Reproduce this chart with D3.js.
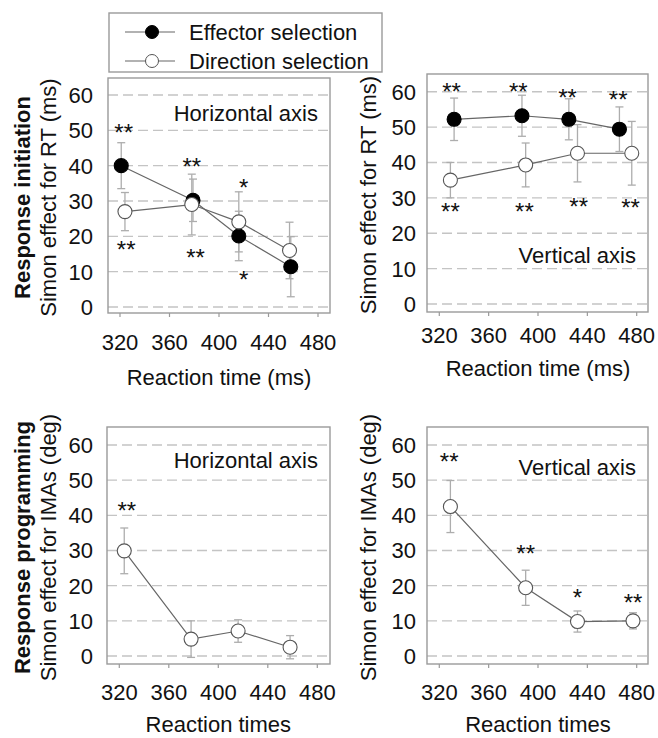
<!DOCTYPE html>
<html lang="en">
<head>
  <meta charset="UTF-8">
  <title>Simon effect by reaction time</title>
  <script src="https://d3js.org/d3.v7.min.js"></script>
  <style>
    body { margin: 0; background: #fff; }
    text { font-family: "Liberation Sans", Arial, sans-serif; fill: #111; }
  </style>
</head>
<body>
<div id="chart"></div>
<script>
  // Data
  const xTicks = [320, 360, 400, 440, 480];
  const yTicks = [0, 10, 20, 30, 40, 50, 60];

  // Response initiation, horizontal axis
  const hEffRT  = [321, 379, 416, 458];
  const hEffVal = [40, 30.2, 20.1, 11.4];
  const hEffErr = [6.5, 6, 7, 8.5];
  const hDirRT  = [324, 378, 416, 457];
  const hDirVal = [27, 29, 24.1, 16];
  const hDirErr = [5.4, 8.6, 8.5, 8];
  const hRtStars = [[323, 50.6, "**"], [378, 41.1, "**"], [420, 35, "*"],
                    [325, 17.5, "**"], [381, 15.2, "**"], [420, 9.1, "*"]];

  // Response initiation, vertical axis
  const vEffRT  = [332, 387, 425, 466];
  const vEffVal = [52.2, 53.2, 52.2, 49.4];
  const vEffErr = [6, 5.8, 5.8, 6.3];
  const vDirRT  = [329, 390, 432, 476];
  const vDirVal = [35, 39.3, 42.6, 42.6];
  const vDirErr = [5, 6.2, 8.1, 9];
  const vRtStars = [[330, 61.2, "**"], [384, 61.4, "**"], [424, 59.7, "**"], [465, 59.1, "**"],
                    [329, 27.5, "**"], [389, 27.5, "**"], [433, 28.7, "**"], [475, 28.5, "**"]];

  // Response programming (IMAs)
  const hImaRT  = [324, 378, 416, 458];
  const hImaVal = [29.9, 4.8, 7.1, 2.5];
  const hImaErr = [6.5, 5.2, 3.2, 3.3];
  const hImaStars = [[326, 42.6, "**"]];

  const vImaRT  = [329, 390, 432, 477];
  const vImaVal = [42.5, 19.4, 9.8, 10];
  const vImaErr = [7.4, 5, 3, 2.3];
  const vImaStars = [[328, 56.5, "**"], [390, 30.3, "**"], [432, 18, "*"], [477, 16.4, "**"]];

  const legendLabels = ["Effector selection", "Direction selection"];

  const width = 658, height = 738;
  const gridColor = "#c4c4c4", frameColor = "#9a9a9a", errColor = "#adadad", lineColor = "#666";

  const svg = d3.select("#chart").append("svg")
    .attr("width", width).attr("height", height);
  svg.append("rect").attr("width", width).attr("height", height).attr("fill", "#fff");

  const zip = (rt, val, err) => rt.map((r, i) => ({ rt: r, v: val[i], e: err[i] }));

  // panel layout: frame box, plot range inside it, and label placements
  const panels = [
    { frame: [108, 78, 222, 235], xr: [120, 318], yr: [307, 95],
      series: [{ pts: zip(hEffRT, hEffVal, hEffErr), filled: true },
               { pts: zip(hDirRT, hDirVal, hDirErr), filled: false }],
      stars: hRtStars, inner: ["Horizontal axis", 54.9],
      ytitle: "Simon effect for RT (ms)", ytx: 48, bold: "Response initiation", xtitle: "Reaction time (ms)",
      tickY: 342, xtY: 377, ylabGap: 15 },
    { frame: [427, 74, 221, 238], xr: [439.3, 636.7], yr: [304, 91.7],
      series: [{ pts: zip(vEffRT, vEffVal, vEffErr), filled: true },
               { pts: zip(vDirRT, vDirVal, vDirErr), filled: false }],
      stars: vRtStars, inner: ["Vertical axis", 13.8],
      ytitle: "Simon effect for RT (ms)", ytx: 368, xtitle: "Reaction time (ms)",
      tickY: 335, xtY: 368, ylabGap: 11 },
    { frame: [107, 427, 223, 237], xr: [119.3, 317.3], yr: [656, 445],
      series: [{ pts: zip(hImaRT, hImaVal, hImaErr), filled: false }],
      stars: hImaStars, inner: ["Horizontal axis", 55.7],
      ytitle: "Simon effect for IMAs (deg)", ytx: 48, bold: "Response programming", xtitle: "Reaction times",
      tickY: 692, xtY: 724, ylabGap: 14 },
    { frame: [427, 427, 221, 237], xr: [439.3, 636.7], yr: [656, 445],
      series: [{ pts: zip(vImaRT, vImaVal, vImaErr), filled: false }],
      stars: vImaStars, inner: ["Vertical axis", 53.7],
      ytitle: "Simon effect for IMAs (deg)", ytx: 368, xtitle: "Reaction times",
      tickY: 692, xtY: 724, ylabGap: 11 }
  ];

  panels.forEach(p => {
    const [fx, fy, fw, fh] = p.frame;
    const x = d3.scaleLinear().domain([320, 480]).range(p.xr);
    const y = d3.scaleLinear().domain([0, 60]).range(p.yr);
    const g = svg.append("g");

    // dashed gridlines
    g.selectAll(".grid").data(yTicks).join("line")
      .attr("x1", fx).attr("x2", fx + fw)
      .attr("y1", d => y(d)).attr("y2", d => y(d))
      .attr("stroke", gridColor).attr("stroke-width", 1.4)
      .attr("stroke-dasharray", "10,5");

    // frame
    g.append("rect").attr("x", fx).attr("y", fy).attr("width", fw).attr("height", fh)
      .attr("fill", "none").attr("stroke", frameColor).attr("stroke-width", 1.4);

    // x ticks below the frame
    g.selectAll(".xt").data(xTicks).join("line")
      .attr("x1", d => x(d)).attr("x2", d => x(d))
      .attr("y1", fy + fh).attr("y2", fy + fh + 4)
      .attr("stroke", frameColor).attr("stroke-width", 1.2);
    g.selectAll(".xl").data(xTicks).join("text")
      .attr("x", d => x(d)).attr("y", p.tickY).attr("dy", "0.36em")
      .attr("text-anchor", "middle").style("font-size", "22px").text(d => d);

    // y tick labels
    g.selectAll(".yl").data(yTicks).join("text")
      .attr("x", fx - p.ylabGap).attr("y", d => y(d)).attr("dy", "0.36em")
      .attr("text-anchor", "end").style("font-size", "22px").text(d => d);

    // axis titles
    g.append("text").attr("x", (p.xr[0] + p.xr[1]) / 2).attr("y", p.xtY).attr("dy", "0.36em")
      .attr("text-anchor", "middle").style("font-size", "22px").text(p.xtitle);
    const cy = fy + fh / 2 + 2;
    g.append("text").attr("transform", `translate(${p.ytx},${cy}) rotate(-90)`)
      .attr("dy", "0.36em").attr("text-anchor", "middle").style("font-size", "22px").text(p.ytitle);
    if (p.bold) {
      g.append("text").attr("transform", `translate(22,${cy}) rotate(-90)`)
        .attr("dy", "0.36em").attr("text-anchor", "middle")
        .style("font-size", "22px").style("font-weight", "bold").text(p.bold);
    }

    // panel label
    g.append("text").attr("x", fx + fw - 12).attr("y", y(p.inner[1])).attr("dy", "0.36em")
      .attr("text-anchor", "end").style("font-size", "22px").text(p.inner[0]);

    // error bars for all series first, then lines and markers
    p.series.forEach(s => {
      const eb = g.append("g").attr("stroke", errColor).attr("stroke-width", 1.3);
      eb.selectAll(".v").data(s.pts).join("line")
        .attr("x1", d => x(d.rt)).attr("x2", d => x(d.rt))
        .attr("y1", d => y(d.v - d.e)).attr("y2", d => y(d.v + d.e));
      eb.selectAll(".c").data(s.pts.flatMap(d => [d.v - d.e, d.v + d.e].map(v => ({ rt: d.rt, v }))))
        .join("line")
        .attr("x1", d => x(d.rt) - 4).attr("x2", d => x(d.rt) + 4)
        .attr("y1", d => y(d.v)).attr("y2", d => y(d.v));
    });
    const line = d3.line().x(d => x(d.rt)).y(d => y(d.v));
    p.series.forEach(s => {
      g.append("path").datum(s.pts).attr("d", line)
        .attr("fill", "none").attr("stroke", lineColor).attr("stroke-width", 1.2);
    });
    p.series.forEach(s => {
      g.selectAll(null).data(s.pts).join("circle")
        .attr("cx", d => x(d.rt)).attr("cy", d => y(d.v)).attr("r", 7)
        .attr("fill", s.filled ? "#000" : "#fff")
        .attr("stroke", s.filled ? "#000" : "#555").attr("stroke-width", 1.1);
    });

    // significance stars (centred on glyph)
    g.selectAll(".st").data(p.stars).join("text")
      .attr("x", d => x(d[0])).attr("y", d => y(d[1]) + 13)
      .attr("text-anchor", "middle").style("font-size", "24px").text(d => d[2]);
  });

  // legend
  const lg = svg.append("g");
  lg.append("rect").attr("x", 109).attr("y", 13).attr("width", 273).attr("height", 59)
    .attr("fill", "#fff").attr("stroke", frameColor).attr("stroke-width", 1.4);
  const rowY = d3.scalePoint().domain(legendLabels).range([32, 61]);
  legendLabels.forEach((lab, i) => {
    const yy = rowY(lab);
    lg.append("line").attr("x1", 125).attr("x2", 175).attr("y1", yy).attr("y2", yy)
      .attr("stroke", lineColor).attr("stroke-width", 1.2);
    lg.append("circle").attr("cx", 152).attr("cy", yy).attr("r", 6.5)
      .attr("fill", i === 0 ? "#000" : "#fff").attr("stroke", i === 0 ? "#000" : "#555");
    lg.append("text").attr("x", 189).attr("y", yy).attr("dy", "0.36em")
      .style("font-size", "22px").text(lab);
  });
</script>
</body>
</html>
